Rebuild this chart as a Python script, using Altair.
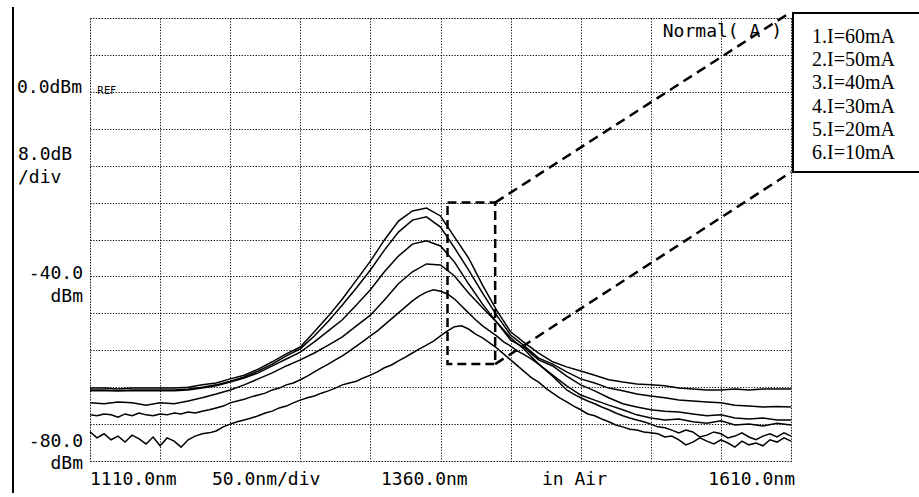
import altair as alt
import pandas as pd

# Wavelength grids (nm)
WL10 = list(range(1110, 1611, 10))
WL5 = list(range(1110, 1611, 5))

# Spectra in dBm, one list per drive current
I60 = [-64.2, -64.2, -64.4, -64.2, -64.2, -64.2, -64.2, -64.0, -63.5, -63.1,
       -62.2, -61.4, -60.1, -58.5, -56.8, -55.3, -52.0, -48.6, -44.9, -40.8,
       -36.7, -32.1, -28.0, -25.8, -25.2, -26.9, -31.5, -36.0, -41.9, -47.3,
       -52.0, -54.4, -56.6, -58.5, -59.6, -60.5, -61.4, -62.4, -62.9, -63.3,
       -63.5, -63.7, -64.2, -64.4, -64.6, -64.6, -64.4, -64.6, -64.4, -64.4,
       -64.4]
I50 = [-64.6, -64.6, -64.8, -64.6, -64.6, -64.6, -64.6, -64.4, -64.0, -63.5,
       -62.7, -61.8, -60.5, -59.0, -57.2, -55.7, -52.9, -49.7, -46.2, -42.5,
       -38.6, -34.3, -30.4, -27.8, -27.1, -29.3, -33.8, -38.6, -43.6, -48.4,
       -52.7, -55.1, -57.7, -59.0, -60.7, -62.2, -63.1, -64.2, -64.8, -65.5,
       -65.9, -66.3, -66.8, -67.0, -67.2, -67.4, -67.9, -68.1, -68.3, -68.2,
       -68.3]
I40 = [-64.8, -64.8, -64.8, -64.8, -64.8, -64.8, -64.8, -64.6, -64.2, -63.7,
       -62.9, -62.0, -60.9, -59.4, -57.9, -56.4, -54.2, -51.8, -49.4, -46.2,
       -42.9, -39.0, -35.6, -33.0, -32.3, -33.4, -36.9, -41.6, -46.0, -49.9,
       -53.8, -55.5, -58.1, -59.4, -61.6, -63.5, -64.8, -66.3, -67.6, -68.3,
       -68.9, -69.2, -69.4, -69.8, -70.2, -70.0, -70.7, -70.9, -70.7, -71.1,
       -71.1]
I30 = [-67.4, -67.6, -67.2, -67.4, -67.9, -67.4, -67.6, -67.0, -66.3, -65.5,
       -64.6, -63.5, -62.2, -60.9, -59.4, -58.1, -56.6, -54.9, -53.1, -50.7,
       -48.4, -45.1, -41.6, -39.0, -37.3, -37.5, -39.9, -43.6, -46.8, -49.9,
       -53.3, -55.9, -59.0, -61.4, -63.7, -65.7, -66.8, -67.9, -68.9, -70.0,
       -70.7, -71.1, -70.9, -71.5, -71.8, -71.3, -72.2, -72.0, -72.4, -71.8,
       -72.2]
I20 = [-70.0, -70.2, -69.8, -70.0, -70.5, -69.8, -70.2, -69.6, -70.0, -70.2,
       -69.8, -70.0, -69.6, -69.8, -69.4, -69.6, -69.2, -68.9, -68.5, -68.1,
       -67.4, -67.0, -66.6, -66.1, -65.7, -65.3, -64.6, -64.2, -63.5, -63.1,
       -62.4, -61.6, -60.7, -59.8, -59.0, -58.1, -57.2, -56.2, -55.1, -54.0,
       -52.9, -51.8, -50.5, -49.2, -47.9, -46.6, -45.3, -44.2, -43.4, -42.9,
       -43.2, -43.8, -44.9, -46.4, -47.9, -49.4, -50.7, -51.8, -52.9, -54.2,
       -55.1, -56.2, -57.0, -57.9, -59.0, -60.3, -61.6, -63.1, -64.6, -65.5,
       -66.3, -67.0, -67.6, -68.3, -68.9, -69.6, -70.2, -70.7, -71.1, -71.5,
       -72.0, -72.6, -72.8, -73.3, -73.9, -73.3, -73.7, -74.8, -74.4, -73.7,
       -74.1, -75.0, -74.6, -73.9, -74.8, -75.4, -74.6, -74.1, -74.8, -73.9,
       -74.6]
I10 = [-73.7, -75.0, -74.1, -75.4, -74.6, -75.9, -74.4, -75.2, -76.3, -74.8,
       -76.7, -75.0, -75.7, -77.0, -75.4, -74.6, -74.1, -73.9, -73.5, -72.6,
       -72.0, -71.5, -71.1, -70.7, -70.2, -69.6, -69.2, -68.5, -68.1, -67.4,
       -66.8, -66.3, -65.9, -65.3, -64.8, -64.2, -63.5, -63.1, -62.7, -62.0,
       -61.4, -60.7, -59.8, -59.2, -58.3, -57.5, -56.6, -55.7, -54.9, -54.0,
       -52.9, -51.8, -50.9, -50.7, -51.4, -52.5, -53.3, -54.4, -55.5, -56.8,
       -58.1, -59.4, -60.7, -62.0, -62.9, -64.2, -65.3, -66.3, -67.2, -68.1,
       -68.9, -69.8, -70.2, -70.9, -71.5, -72.2, -72.6, -73.1, -73.3, -73.7,
       -73.9, -74.1, -74.8, -74.6, -75.4, -76.5, -75.9, -75.0, -75.7, -76.3,
       -75.4, -76.1, -77.0, -75.7, -76.5, -76.1, -76.7, -75.4, -75.9, -75.0,
       -75.7]

LEGEND = ["1.I=60mA", "2.I=50mA", "3.I=40mA", "4.I=30mA", "5.I=20mA", "6.I=10mA"]

# Zoomed window around the peak and its two leader lines
ZOOM_WL = [1365, 1399]
ZOOM_DB = [-59, -24]
LEADER_WL = [1399, 1610]
LEADER_TOP_DB = [-24, 17.3]
LEADER_BOT_DB = [-59, -17.4]

series = [("60", WL10, I60), ("50", WL10, I50), ("40", WL10, I40),
          ("30", WL10, I30), ("20", WL5, I20), ("10", WL5, I10)]
rows = []
for name, wl, db in series:
    assert len(wl) == len(db)
    rows += [{"I": name, "wl": w, "dbm": d} for w, d in zip(wl, db)]
spec = pd.DataFrame(rows)

XS = alt.Scale(domain=[1110, 1610], nice=False, zero=False)
YS = alt.Scale(domain=[-80, 16], nice=False, zero=False)
grid_axis = dict(grid=True, labels=False, ticks=False, domain=False, title=None,
                 gridColor="black", gridDash=[1.2, 1.6], gridWidth=1, gridOpacity=1)
X_AXIS = alt.Axis(values=list(range(1110, 1611, 50)), **grid_axis)
Y_AXIS = alt.Axis(values=list(range(-80, 17, 8)), **grid_axis)

traces = alt.Chart(spec).mark_line(color="black", strokeWidth=1.5).encode(
    x=alt.X("wl:Q", scale=XS, axis=X_AXIS),
    y=alt.Y("dbm:Q", scale=YS, axis=Y_AXIS),
    detail="I:N")

zoom_box = alt.Chart(pd.DataFrame({
    "wl": [ZOOM_WL[0]], "wl2": [ZOOM_WL[1]], "dbm": [ZOOM_DB[0]], "dbm2": [ZOOM_DB[1]]
})).mark_rect(fillOpacity=0, stroke="black", strokeWidth=2.5, strokeDash=[9, 5]).encode(
    x=alt.X("wl:Q", scale=XS, axis=X_AXIS), x2="wl2:Q",
    y=alt.Y("dbm:Q", scale=YS, axis=Y_AXIS), y2="dbm2:Q")

leaders = alt.Chart(pd.DataFrame({
    "wl": LEADER_WL * 2,
    "dbm": LEADER_TOP_DB + LEADER_BOT_DB,
    "k": ["top", "top", "bot", "bot"],
})).mark_line(color="black", strokeWidth=2.5, strokeDash=[10, 6]).encode(
    x=alt.X("wl:Q", scale=XS, axis=X_AXIS),
    y=alt.Y("dbm:Q", scale=YS, axis=Y_AXIS),
    detail="k:N")

legend_box = alt.Chart(pd.DataFrame({"a": [0]})).mark_rect(
    fill="white", stroke="black", strokeWidth=2).encode(
    x=alt.value(703), x2=alt.value(840), y=alt.value(-5), y2=alt.value(154))

page_edge = alt.Chart(pd.DataFrame({"a": [0]})).mark_rule(
    color="black", strokeWidth=2).encode(
    x=alt.value(-77), y=alt.value(-11), y2=alt.value(475))

MONO = "DejaVu Sans Mono"


def label(text, x, y, align="left", size=18, font=MONO):
    return alt.Chart(pd.DataFrame({"a": [0]})).mark_text(
        text=text, align=align, baseline="middle", font=font,
        fontSize=size, color="black").encode(x=alt.value(x), y=alt.value(y))


labels = [
    label("0.0dBm", -8, 70, "right"),
    label("REF", 7, 73, "left", 10, "DejaVu Sans"),
    label("8.0dB", -72, 137),
    label("/div", -72, 160),
    label("-40.0", -7, 256, "right"),
    label("dBm", -7, 279, "right"),
    label("-80.0", -7, 424, "right"),
    label("dBm", -7, 446, "right"),
    label("1110.0nm", 0, 462),
    label("50.0nm/div", 122, 462),
    label("1360.0nm", 291, 462),
    label("in Air", 452, 462),
    label("1610.0nm", 705, 462, "right"),
    label("Normal( A )", 692, 14, "right"),
]
legend_rows = [label(t, 722, 19 + i * 23.2, "left", 20, "Liberation Serif")
               for i, t in enumerate(LEGEND)]

chart = alt.layer(
    traces, zoom_box, leaders, legend_box, page_edge, *labels, *legend_rows
).properties(
    width=701, height=443,
    padding={"left": 90, "top": 18, "right": 128, "bottom": 36},
    autosize="none",
).configure_view(stroke="black", strokeWidth=2).configure(background="white")

chart.save("out.html", embed_options={"renderer": "svg", "actions": False})
